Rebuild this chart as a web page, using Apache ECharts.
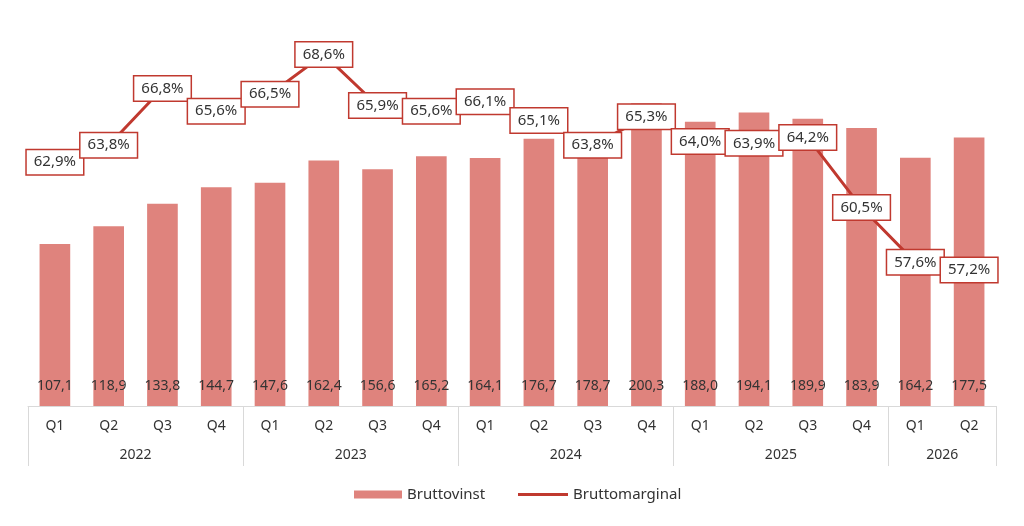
<!DOCTYPE html>
<html>
<head>
<meta charset="utf-8">
<title>Bruttovinst och bruttomarginal</title>
<script src="https://cdn.jsdelivr.net/npm/echarts@6/dist/echarts.min.js"></script>
<style>
  html, body { margin: 0; padding: 0; background: #fff; }
  #main { width: 1024px; height: 526px; }
</style>
</head>
<body>
<div id="main"></div>
<script>
// data
var quarters = ['Q1', 'Q2', 'Q3', 'Q4', 'Q1', 'Q2', 'Q3', 'Q4', 'Q1', 'Q2', 'Q3', 'Q4',
                'Q1', 'Q2', 'Q3', 'Q4', 'Q1', 'Q2'];
var years = ['2022', '2023', '2024', '2025', '2026'];
var quartersPerYear = [4, 4, 4, 4, 2];
var bruttovinst = [107.1, 118.9, 133.8, 144.7, 147.6, 162.4, 156.6, 165.2, 164.1, 176.7,
                   178.7, 200.3, 188.0, 194.1, 189.9, 183.9, 164.2, 177.5];
var bruttomarginal = [62.9, 63.8, 66.8, 65.6, 66.5, 68.6, 65.9, 65.6, 66.1, 65.1,
                      63.8, 65.3, 64.0, 63.9, 64.2, 60.5, 57.6, 57.2];

var barColor = '#df837d';
var lineColor = '#c0392f';
var textColor = '#333333';
var fontName = 'Noto Sans';

// year separators and year label positions
var bounds = [0];
var mids = [];
var yearAt = {};
for (var i = 0; i < quartersPerYear.length; i++) {
    var start = bounds[bounds.length - 1];
    var end = start + quartersPerYear[i];
    bounds.push(end);
    var mid = (start + end) / 2;
    mids.push(mid);
    yearAt[mid] = years[i];
}

function comma(v) {
    return v.toFixed(1).replace('.', ',');
}

var chart = echarts.init(document.getElementById('main'));

var option = {
    textStyle: { fontFamily: fontName },
    animation: false,
    grid: { left: 28, right: 28, top: 28, bottom: 120 },
    legend: [{
        data: ['Bruttovinst'],
        left: 349, top: 482,
        itemWidth: 48, itemHeight: 8,
        icon: 'rect',
        textStyle: { color: textColor, fontSize: 15, fontFamily: fontName }
    }, {
        data: ['Bruttomarginal'],
        left: 513, top: 482,
        itemWidth: 50, itemHeight: 3,
        icon: 'rect',
        textStyle: { color: textColor, fontSize: 15, fontFamily: fontName }
    }],
    xAxis: [{
        type: 'category',
        data: quarters,
        position: 'bottom',
        axisLine: { lineStyle: { color: '#d9d9d9', width: 1 } },
        axisTick: { show: false },
        axisLabel: { color: textColor, fontSize: 14, margin: 13 }
    }, {
        type: 'value',
        min: 0,
        max: bruttovinst.length,
        position: 'bottom',
        offset: 60,
        splitLine: { show: false },
        axisLine: { show: false },
        axisTick: {
            show: true,
            inside: true,
            length: 60,
            customValues: bounds,
            lineStyle: { color: '#d9d9d9', width: 1 }
        },
        axisLabel: {
            show: true,
            inside: true,
            margin: 4,
            customValues: mids,
            color: textColor,
            fontSize: 14,
            formatter: function (v) { return yearAt[v] || ''; }
        }
    }],
    yAxis: [{
        type: 'value', min: 0, max: 250, show: false
    }, {
        type: 'value', min: 50, max: 70, show: false
    }],
    series: [{
        name: 'Bruttovinst',
        type: 'bar',
        data: bruttovinst,
        barWidth: '57%',
        itemStyle: { color: barColor },
        label: {
            show: true,
            position: 'insideBottom',
            distance: 13,
            color: textColor,
            fontSize: 14,
            formatter: function (p) { return comma(p.value); }
        }
    }, {
        name: 'Bruttomarginal',
        type: 'line',
        yAxisIndex: 1,
        data: bruttomarginal,
        symbol: 'circle',
        symbolSize: 1,
        lineStyle: { color: lineColor, width: 3 },
        itemStyle: { color: lineColor },
        z: 5,
        label: {
            show: true,
            position: 'inside',
            color: textColor,
            fontSize: 15,
            backgroundColor: '#ffffff',
            borderColor: lineColor,
            borderWidth: 1.5,
            padding: [5, 7, 4, 7],
            formatter: function (p) { return comma(p.value) + '%'; }
        }
    }]
};

chart.setOption(option);
</script>
</body>
</html>
